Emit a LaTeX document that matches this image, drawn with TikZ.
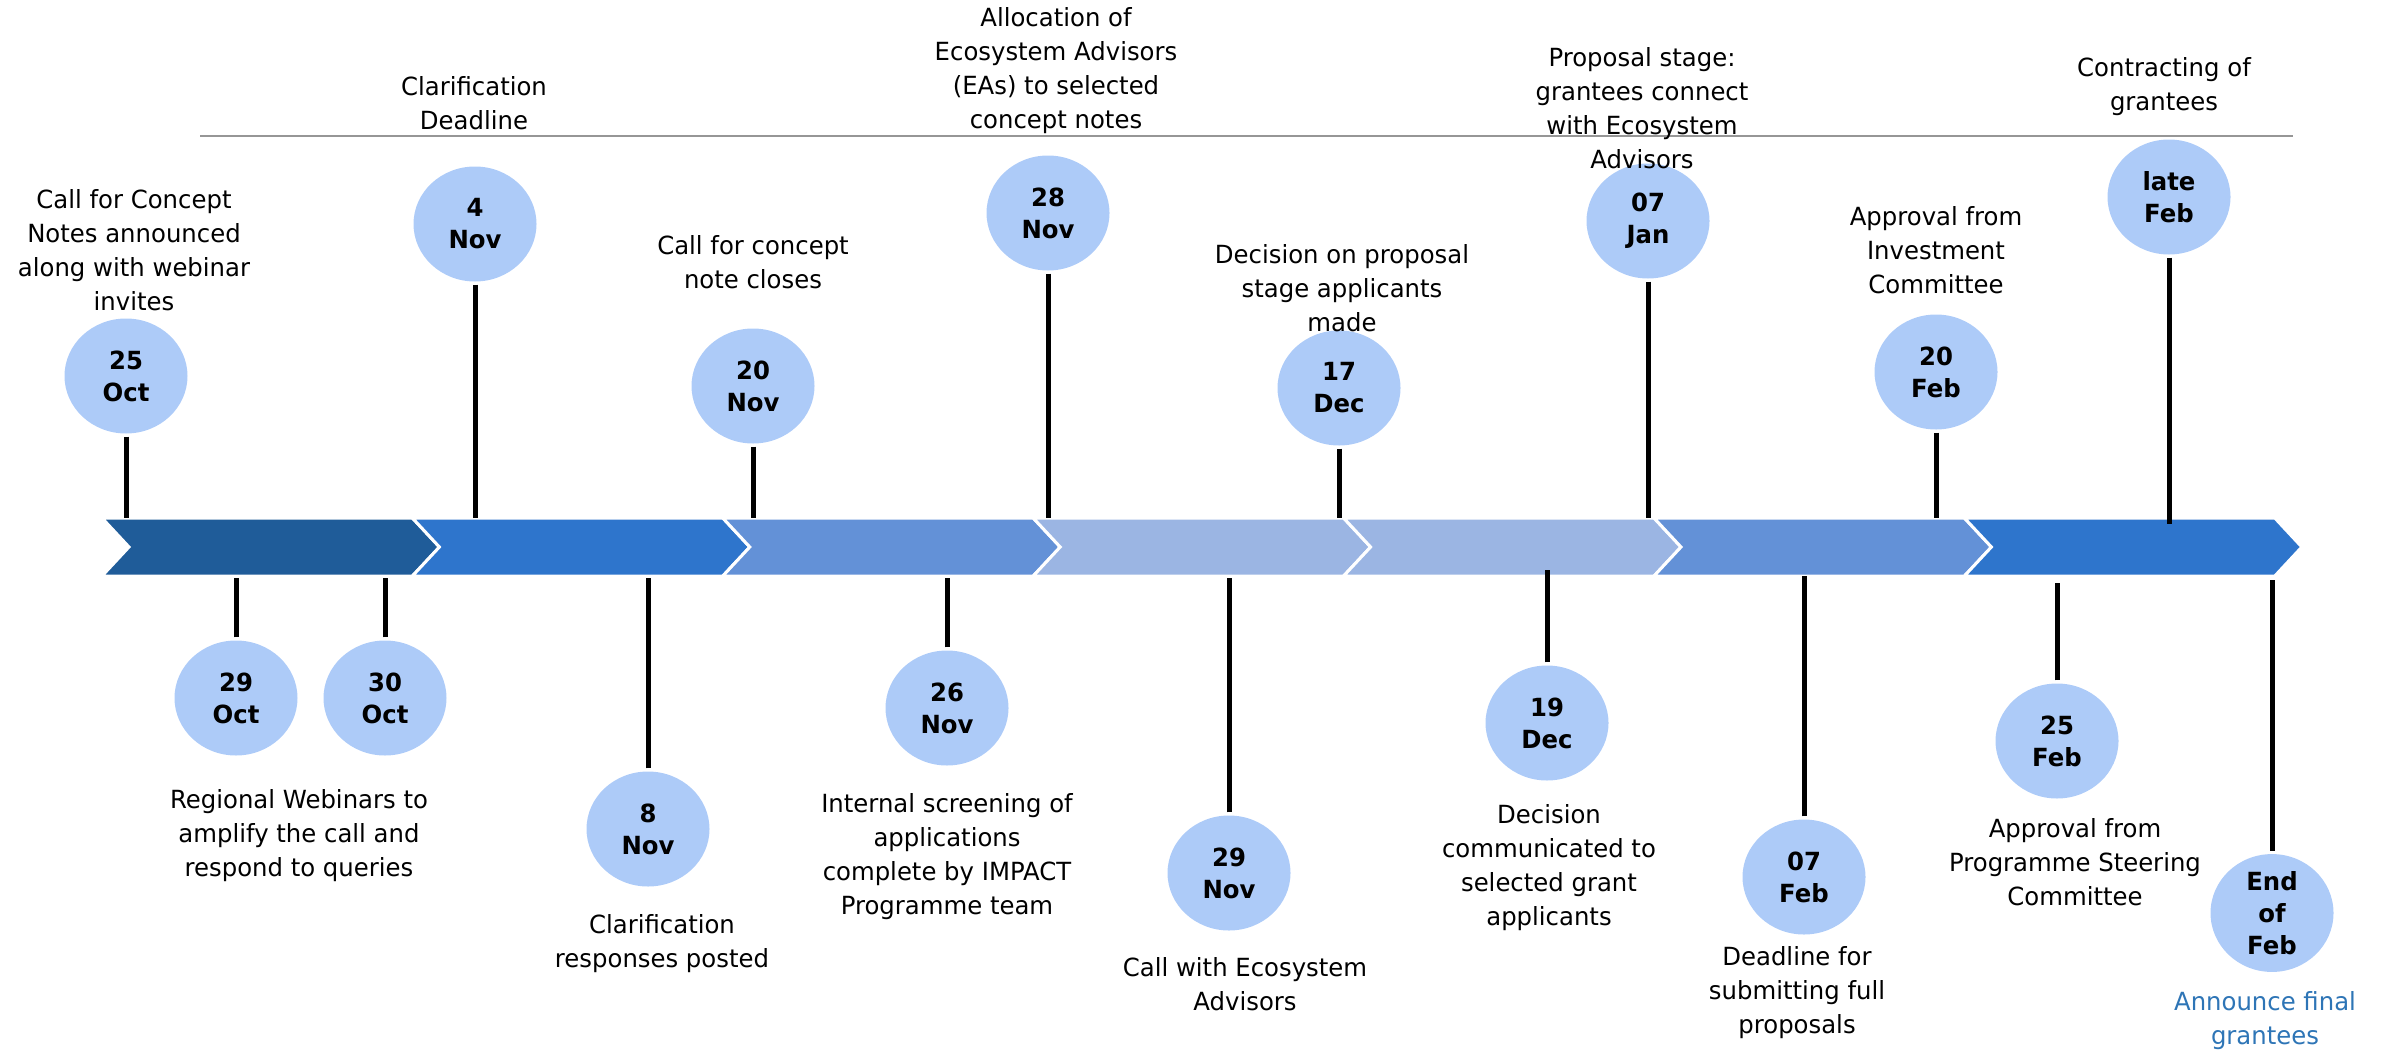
\documentclass[tikz,border=0pt]{standalone}
\usepackage{fontspec}
\setmainfont[FakeStretch=0.974]{DejaVu Sans}
\usetikzlibrary{shapes.geometric}
\definecolor{cA}{RGB}{31,92,153}
\definecolor{cB}{RGB}{46,117,204}
\definecolor{cC}{RGB}{99,145,215}
\definecolor{cD}{RGB}{155,181,227}
\definecolor{datefill}{RGB}{173,203,248}
\definecolor{annblue}{RGB}{46,117,182}
\definecolor{rulegray}{RGB}{150,150,150}
\tikzset{
  datebub/.style={ellipse, minimum width=123pt, minimum height=115pt, inner sep=0pt,
    fill=datefill, align=center, font=\bfseries\fontsize{25}{32}\selectfont},
  lbl/.style={align=center, inner sep=0pt, font=\fontsize{25}{34}\selectfont},
  stem/.style={line width=5pt, black, shorten <=3pt},
  chev/.style={draw=white, line width=3pt, line join=miter}
}
\begin{document}
\begin{tikzpicture}[x=1pt, y=-1pt]
\useasboundingbox (0,0) rectangle (2390,1052);

% grey rule
\coordinate (r1) at (200,136);
\coordinate (r2) at (2293,136);
\draw[rulegray, line width=2pt] (r1) -- (r2);

% chevron band
\foreach \i/\c in {0/cA,1/cB,2/cC,3/cD,4/cD,5/cC,6/cB} {
  \pgfmathsetmacro\L{102+\i*310.4}
  \fill[\c, chev] (\L,518) -- ++(310.4,0) -- ++(27,29) -- ++(-27,29) -- ++(-310.4,0) -- ++(27,-29) -- cycle;
}

% date bubbles above
\node[datebub] (e1) at (126,376) {25\\Oct};
\node[datebub] (e2) at (475,224) {4\\Nov};
\node[datebub] (e3) at (753,386) {20\\Nov};
\node[datebub] (e4) at (1048,213) {28\\Nov};
\node[datebub] (e5) at (1339,388) {17\\Dec};
\node[datebub] (e6) at (1648,221) {07\\Jan};
\node[datebub] (e7) at (1936,372) {20\\Feb};
\node[datebub] (e8) at (2169,197) {late\\Feb};
% date bubbles below
\node[datebub] (e9) at (236,698) {29\\Oct};
\node[datebub] (e10) at (385,698) {30\\Oct};
\node[datebub] (e11) at (648,829) {8\\Nov};
\node[datebub] (e12) at (947,708) {26\\Nov};
\node[datebub] (e13) at (1229,873) {29\\Nov};
\node[datebub] (e14) at (1547,723) {19\\Dec};
\node[datebub] (e15) at (1804,877) {07\\Feb};
\node[datebub] (e16) at (2057,741) {25\\Feb};
\node[datebub] (e17) at (2272,913) {End\\of\\Feb};

% band anchor points
\coordinate (b1) at (126,518);
\coordinate (b2) at (475,518);
\coordinate (b3) at (753,518);
\coordinate (b4) at (1048,518);
\coordinate (b5) at (1339,518);
\coordinate (b6) at (1648,518);
\coordinate (b7) at (1936,518);
\coordinate (b8) at (2169,524);
\coordinate (b9) at (236,578);
\coordinate (b10) at (385,578);
\coordinate (b11) at (648,578);
\coordinate (b12) at (947,578);
\coordinate (b13) at (1229,578);
\coordinate (b14) at (1547,570);
\coordinate (b15) at (1804,576);
\coordinate (b16) at (2057,583);
\coordinate (b17) at (2272,580);

% stems
\foreach \n in {1,...,8} { \draw[stem] (e\n.south) -- (b\n); }
\foreach \n in {9,...,17} { \draw[stem] (e\n.north) -- (b\n); }

% labels
\node[lbl] (l1) at (134,250) {Call for Concept\\Notes announced\\along with webinar\\invites};
\node[lbl] (l2) at (474,103) {Clarification\\Deadline};
\node[lbl] (l3) at (753,262) {Call for concept\\note closes};
\node[lbl] (l4) at (1056,71) {Allocation of\\Ecosystem Advisors\\(EAs) to selected\\concept notes};
\node[lbl] (l5) at (1342,288) {Decision on proposal\\stage applicants\\made};
\node[lbl] (l6) at (1642,108) {Proposal stage:\\grantees connect\\with Ecosystem\\Advisors};
\node[lbl] (l7) at (1936,250) {Approval from\\Investment\\Committee};
\node[lbl] (l8) at (2164,87) {Contracting of\\grantees};
\node[lbl] (l9) at (299,836) {Regional Webinars to\\amplify the call and\\respond to queries};
\node[lbl] (l11) at (662,944) {Clarification\\responses posted};
\node[lbl] (l12) at (947,857) {Internal screening of\\applications\\complete by IMPACT\\Programme team};
\node[lbl] (l13) at (1245,984) {Call with Ecosystem\\Advisors};
\node[lbl] (l14) at (1549,868) {Decision\\communicated to\\selected grant\\applicants};
\node[lbl] (l15) at (1797,993) {Deadline for\\submitting full\\proposals};
\node[lbl] (l16) at (2075,862) {Approval from\\Programme Steering\\Committee};
\node[lbl, text=annblue] (l17) at (2265,1021) {Announce final\\grantees};
\end{tikzpicture}
\end{document}
